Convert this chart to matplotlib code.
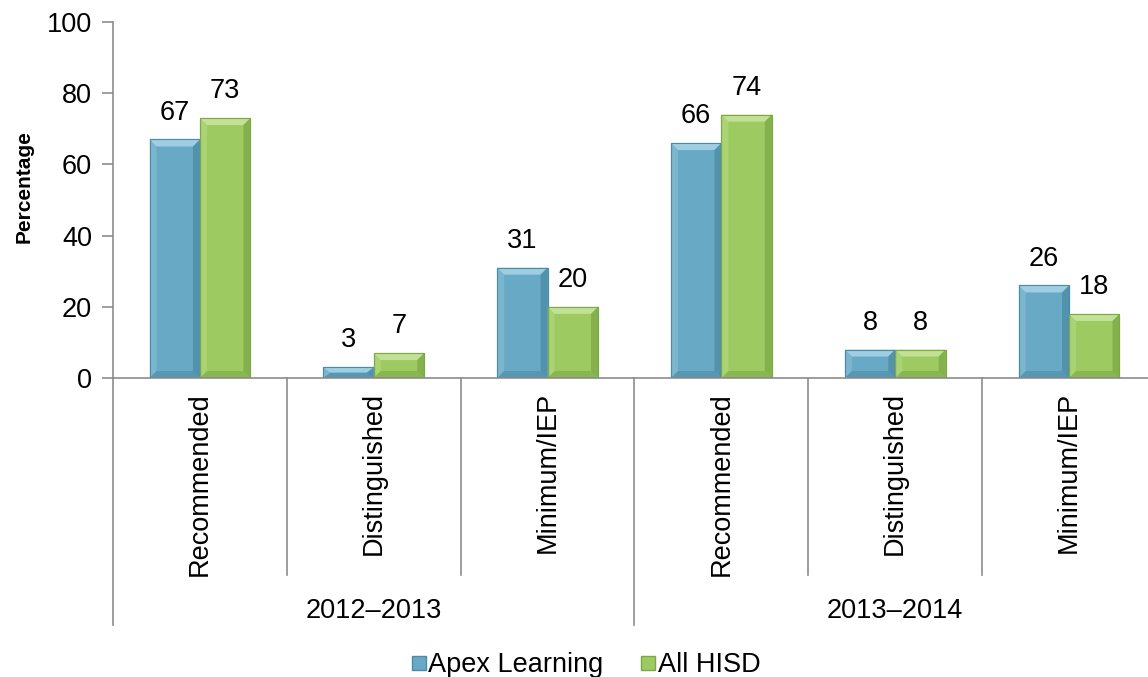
import matplotlib
matplotlib.use("Agg")
import matplotlib.pyplot as plt
from matplotlib.patches import Polygon, Rectangle
from matplotlib.transforms import blended_transform_factory
from matplotlib.lines import Line2D

plt.rcParams['font.family'] = ['Liberation Sans', 'DejaVu Sans']

categories = ["Recommended", "Distinguished", "Minimum/IEP",
              "Recommended", "Distinguished", "Minimum/IEP"]
groups = ["2012\u20132013", "2013\u20132014"]
apex = [67, 3, 31, 66, 8, 26]
hisd = [73, 7, 20, 74, 8, 18]
series_names = ["Apex Learning", "All HISD"]

blue = dict(face="#68A9C5", light="#A9D5E8", dark="#3F7D97", edge="#4A8BA6")
green = dict(face="#9DCB62", light="#CAE6A0", dark="#6C9838", edge="#7DA846")

FS = 19.5
W, H = 1148, 677
fig = plt.figure(figsize=(W / 100, H / 100), dpi=100)
ax = fig.add_axes([113 / W, 1 - 378 / H, (1156 - 113) / W, (378 - 22) / H])

n = len(categories)
ax.set_xlim(-0.5, n - 0.5)
ax.set_ylim(0, 100)
bw = 0.29

px_x = n / (1156 - 113)
px_y = 100 / (378 - 22)


def bevel_bar(x0, h, c):
    x1 = x0 + bw
    ax.add_patch(Rectangle((x0, 0), bw, h, facecolor=c["face"], edgecolor=c["edge"], lw=0.8, zorder=2))
    b = 7
    bx = min(b * px_x, bw / 2)
    by = min(b * px_y, h / 2)
    top = Polygon([(x0, h), (x1, h), (x1 - bx, h - by), (x0 + bx, h - by)], closed=True,
                  facecolor=c["light"], edgecolor="none", alpha=0.85, zorder=3)
    left = Polygon([(x0, 0), (x0, h), (x0 + bx, h - by), (x0 + bx, by)], closed=True,
                   facecolor=c["light"], edgecolor="none", alpha=0.3, zorder=3)
    right = Polygon([(x1, 0), (x1, h), (x1 - bx, h - by), (x1 - bx, by)], closed=True,
                    facecolor=c["dark"], edgecolor="none", alpha=0.5, zorder=3)
    bottom = Polygon([(x0, 0), (x1, 0), (x1 - bx, by), (x0 + bx, by)], closed=True,
                     facecolor=c["dark"], edgecolor="none", alpha=0.4, zorder=3)
    for p in (top, left, right, bottom):
        ax.add_patch(p)
    ax.add_patch(Rectangle((x0, 0), bw, h, facecolor="none", edgecolor=c["edge"], lw=0.8, zorder=4))
    ax.annotate(str(h), (x0 + bw / 2, h), xytext=(0, 10), textcoords="offset points",
                ha="center", va="bottom", fontsize=FS, color="black")


for i in range(n):
    bevel_bar(i - bw, apex[i], blue)
    bevel_bar(i, hisd[i], green)

axis_col = "#8C8C8C"
for s in ["top", "right", "bottom"]:
    ax.spines[s].set_visible(False)
ax.spines["left"].set_color(axis_col)
ax.spines["left"].set_linewidth(1.2)
ax.axhline(0, color=axis_col, lw=1.2, zorder=5, clip_on=False)

ax.set_yticks(range(0, 101, 20))
ax.tick_params(axis="y", direction="out", length=8, width=1.2, color=axis_col,
               labelsize=FS, pad=7)
ax.set_xticks([])
ax.set_ylabel("Percentage", fontsize=15, fontweight="bold")
ax.yaxis.set_label_coords((34 - 113) / (1156 - 113), (378 - 187) / (378 - 22))

trans = blended_transform_factory(ax.transData, ax.transAxes)
short_end = (378 - 575) / (378 - 22)
long_end = (378 - 625) / (378 - 22)
for k in range(n + 1):
    xs = k - 0.5
    end = long_end if k % 3 == 0 else short_end
    ax.add_line(Line2D([xs, xs], [0, end], transform=trans, color=axis_col, lw=1.2, clip_on=False))

for i, cat in enumerate(categories):
    ax.text(i, (378 - 392) / (378 - 22), cat, transform=trans, rotation=90,
            ha="center", va="top", fontsize=FS)

for g, name in enumerate(groups):
    ax.text(g * 3 + 1, (378 - 611) / (378 - 22), name, transform=trans,
            ha="center", va="center", fontsize=FS)

handles = [Line2D([], [], marker="s", linestyle="none", markersize=9.5,
                  markerfacecolor=blue["face"], markeredgecolor=blue["edge"]),
           Line2D([], [], marker="s", linestyle="none", markersize=9.5,
                  markerfacecolor=green["face"], markeredgecolor=green["edge"])]
fig.legend(handles, series_names, loc="center", bbox_to_anchor=(585 / W, 1 - 665 / H),
           ncol=2, frameon=False, fontsize=FS, handletextpad=0.0, columnspacing=1.3,
           handlelength=0.7, borderpad=0.1)

fig.savefig("out.png", dpi=100)
